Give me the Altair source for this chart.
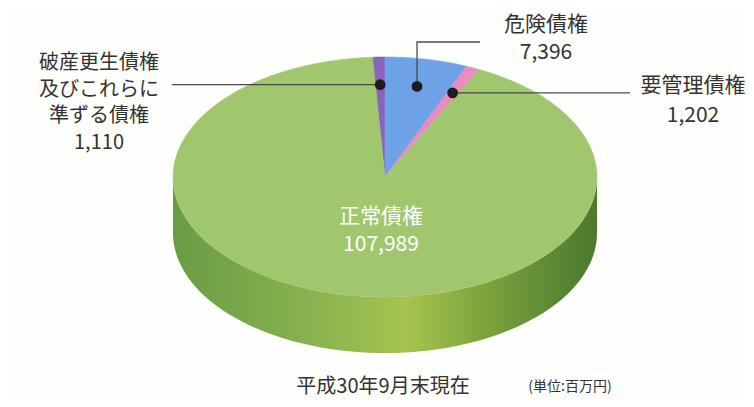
import math
import altair as alt
import pandas as pd

# ---------------- data ----------------
categories = ["破産更生債権及びこれらに準ずる債権", "危険債権", "要管理債権", "正常債権"]
values = [1110, 7396, 1202, 107989]
label_titles = [["破産更生債権", "及びこれらに", "準ずる債権"], ["危険債権"], ["要管理債権"], ["正常債権"]]
caption = "平成30年9月末現在"
unit_note = "(単位:百万円)"

# ---------------- style / layout ----------------
slice_colors = ["#8a64bb", "#6ea2e6", "#e98bc2", "#a0c76e"]
side_stops = [(0.0, "#6a9b44"), (0.2, "#7caa4b"), (0.38, "#8fb650"), (0.55, "#a6c44e"),
              (0.72, "#7fa63e"), (0.9, "#5c8934"), (1.0, "#4b782d")]
TEXT_DARK = "#333333"
FONT = "Noto Sans CJK JP"
BG = "#fefefc"

W, H = 738, 391
CX, CY, RX, RY, DEPTH = 385, 177, 212, 120, 56
N = 80
total = sum(values)
START = -2 * math.pi * values[0] / total   # first slice ends at 12 o'clock
DOT_R = 0.77

# (x, first-line y, line spacing, font size)
label_anchor = [(99, 63, 26.6, 20), (546, 25, 28, 21), (693, 86, 30, 21), (381, 217, 28, 21)]
label_color = [TEXT_DARK, TEXT_DARK, TEXT_DARK, "#ffffff"]

xs = alt.Scale(domain=[8, 8 + W], nice=False, zero=False)
ys = alt.Scale(domain=[8, 8 + H], nice=False, zero=False, reverse=True)
X = lambda f: alt.X(f, type="quantitative", scale=xs, axis=None)
Y = lambda f: alt.Y(f, type="quantitative", scale=ys, axis=None)
cscale = alt.Scale(domain=categories, range=slice_colors)

df = pd.DataFrame({"cat": categories, "value": values, "idx": list(range(len(values)))})

geo = alt.Chart(df).transform_window(
    cum="sum(value)", sort=[alt.SortField("idx", order="ascending")], frame=[None, 0]
).transform_joinaggregate(
    total="sum(value)"
).transform_calculate(
    a0=f"{START} + 2*PI*(datum.cum - datum.value)/datum.total",
    a1=f"{START} + 2*PI*datum.cum/datum.total",
)

# side wall (only the front half is visible)
side = geo.transform_calculate(
    s="max(datum.a0, PI/2)", e="min(datum.a1, 3*PI/2)"
).transform_filter("datum.s < datum.e").transform_calculate(
    k=f"sequence(0, {2 * N + 2})"
).transform_flatten(["k"]).transform_calculate(
    bottom=f"datum.k <= {N} ? 1 : 0",
    t=f"datum.k <= {N} ? datum.k/{N} : 1 - (datum.k - {N + 1})/{N}",
).transform_calculate(
    ang="datum.s + (datum.e - datum.s)*datum.t"
).transform_calculate(
    px=f"{CX} + {RX}*sin(datum.ang)",
    py=f"{CY} - {RY}*cos(datum.ang) + datum.bottom*{DEPTH}",
).mark_line(
    filled=True, strokeWidth=0,
    fill=alt.LinearGradient(gradient="linear", x1=0, x2=1, y1=0, y2=0,
                            stops=[alt.GradientStop(offset=o, color=c) for o, c in side_stops]),
).encode(x=X("px"), y=Y("py"), detail="cat:N", order="k:Q")

# top face slices
top = geo.transform_calculate(
    k=f"sequence(0, {N + 3})"
).transform_flatten(["k"]).transform_calculate(
    arc=f"datum.k >= 1 && datum.k <= {N + 1} ? 1 : 0",
    ang=f"datum.a0 + (datum.a1 - datum.a0)*clamp((datum.k - 1)/{N}, 0, 1)",
).transform_calculate(
    px=f"{CX} + datum.arc*{RX}*sin(datum.ang)",
    py=f"{CY} - datum.arc*{RY}*cos(datum.ang)",
).mark_line(filled=True, strokeWidth=0.6).encode(
    x=X("px"), y=Y("py"),
    color=alt.Color("cat:N", scale=cscale, legend=None),
    stroke=alt.Stroke("cat:N", scale=cscale, legend=None),
    detail="cat:N", order="k:Q",
)

# dots and leader lines derived from the slice mid-angles
mids, cum = [], 0
for v in values:
    a0 = START + 2 * math.pi * cum / total
    cum += v
    a1 = START + 2 * math.pi * cum / total
    mids.append((a0 + a1) / 2)
dots = [(CX + DOT_R * RX * math.sin(m), CY - DOT_R * RY * math.cos(m)) for m in mids[:3]]
leader_paths = [
    [dots[0], (172, dots[0][1])],
    [dots[1], (dots[1][0], 42), (480, 42)],
    [dots[2], (630, dots[2][1])],
]
lrows = []
for i, path in enumerate(leader_paths):
    for j, (x, y) in enumerate(path):
        lrows.append({"cat": categories[i], "seq": j, "x": x, "y": y})
leaders = alt.Chart(pd.DataFrame(lrows)).mark_line(color="#4a4a4a", strokeWidth=1.3).encode(
    x=X("x"), y=Y("y"), detail="cat:N", order="seq:Q")
dot_df = pd.DataFrame({"cat": categories[:3], "x": [d[0] for d in dots], "y": [d[1] for d in dots]})
dot_layer = alt.Chart(dot_df).mark_circle(size=115, color="#1c1c1c", opacity=1).encode(
    x=X("x"), y=Y("y"))

# text
trows = []
for i in range(len(categories)):
    lx, ly, sp, fs = label_anchor[i]
    lines = label_titles[i] + [f"{values[i]:,}"]
    for j, s in enumerate(lines):
        trows.append({"x": lx, "y": ly + j * sp, "t": s, "col": label_color[i], "fs": fs})
trows.append({"x": 383, "y": 387, "t": caption, "col": TEXT_DARK, "fs": 20})
trows.append({"x": 570, "y": 387, "t": unit_note, "col": TEXT_DARK, "fs": 14})
texts = alt.Chart(pd.DataFrame(trows)).mark_text(
    font=FONT, align="center", baseline="middle").encode(
    x=X("x"), y=Y("y"), text="t:N",
    color=alt.Color("col:N", scale=None), size=alt.Size("fs:Q", scale=None))

chart = alt.layer(side, top, leaders, dot_layer, texts).properties(
    width=W, height=H, autosize=alt.AutoSizeParams(type="none"), padding=0,
    background=BG,
).configure_view(stroke=None)

chart.save("out.html", embed_options={"renderer": "svg", "actions": False})
